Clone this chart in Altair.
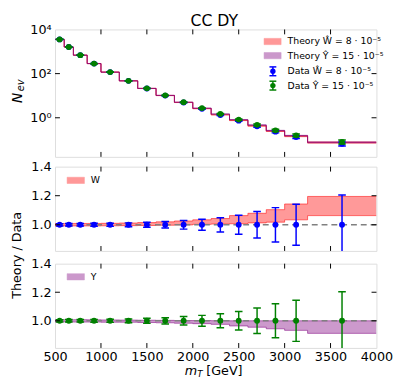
import altair as alt
import pandas as pd

# ---------------- data ----------------
bin_lo = [500, 600, 700, 850, 1000, 1200, 1400, 1600, 1800, 2000, 2200, 2400, 2600, 2800, 3000, 3250]
bin_hi = [600, 700, 850, 1000, 1200, 1400, 1600, 1800, 2000, 2200, 2400, 2600, 2800, 3000, 3250, 4000]
mt_center = [550, 650, 775, 925, 1100, 1300, 1500, 1700, 1900, 2100, 2300, 2500, 2700, 2900, 3125, 3625]
data_W = [3550, 1600, 685, 285, 117, 47, 21.2, 10.1, 4.9, 2.55, 1.33, 0.74, 0.41, 0.235, 0.135, 0.067]
data_Y = [3550, 1600, 685, 285, 117, 47, 21.5, 10.4, 5.1, 2.75, 1.50, 0.83, 0.48, 0.27, 0.16, 0.081]
relerr_W = [0.008, 0.009, 0.009, 0.010, 0.011, 0.013, 0.017, 0.022, 0.030, 0.038, 0.049, 0.065, 0.091, 0.118, 0.141, 0.205]
relerr_Y = [0.008, 0.009, 0.009, 0.010, 0.011, 0.013, 0.018, 0.022, 0.030, 0.038, 0.049, 0.065, 0.089, 0.119, 0.144, 0.204]
ratio_W_lo = [0.992, 0.992, 0.992, 0.992, 0.993, 0.994, 0.995, 0.997, 0.999, 1.003, 1.005, 1.007, 1.013, 1.018, 1.034, 1.063]
ratio_W_hi = [1.008, 1.008, 1.009, 1.009, 1.010, 1.012, 1.015, 1.020, 1.026, 1.034, 1.043, 1.063, 1.079, 1.104, 1.143, 1.195]
ratio_Y_lo = [0.992, 0.992, 0.991, 0.991, 0.990, 0.990, 0.988, 0.986, 0.983, 0.980, 0.975, 0.964, 0.955, 0.944, 0.933, 0.912]
ratio_Y_hi = [1.008, 1.008, 1.008, 1.007, 1.006, 1.005, 1.004, 1.003, 1.002, 1.002, 1.001, 1.000, 1.000, 1.000, 1.000, 1.000]

x_tick_values = [500, 1000, 1500, 2000, 2500, 3000, 3500, 4000]
top_tick_values = [1, 100, 10000]
ratio_tick_values = [1.0, 1.2, 1.4]
top_legend_labels = ["Theory Ŵ = 8 · 10⁻⁵", "Theory Ŷ = 15 · 10⁻⁵",
                     "Data Ŵ = 8 · 10⁻⁵", "Data Ŷ = 15 · 10⁻⁵"]
mid_legend_label = "W"
bot_legend_label = "Y"
title_text = "CC DY"

# ---------------- tables ----------------
pts = pd.DataFrame({"mt": mt_center, "dW": data_W, "dY": data_Y,
                    "eW": relerr_W, "eY": relerr_Y})
pts["dW_lo"] = pts.dW * (1 - pts.eW)
pts["dW_hi"] = pts.dW * (1 + pts.eW)
pts["dY_lo"] = pts.dY * (1 - pts.eY)
pts["dY_hi"] = pts.dY * (1 + pts.eY)
pts["one"] = 1.0
pts["rW_lo"] = 1 - pts.eW
pts["rW_hi"] = 1 + pts.eW
pts["rY_lo"] = 1 - pts.eY
pts["rY_hi"] = 1 + pts.eY

step = pd.DataFrame({
    "x": bin_lo + [bin_hi[-1]],
    "dW": data_W + [data_W[-1]],
    "dY": data_Y + [data_Y[-1]],
    "rWlo": ratio_W_lo + [ratio_W_lo[-1]],
    "rWhi": ratio_W_hi + [ratio_W_hi[-1]],
    "rYlo": ratio_Y_lo + [ratio_Y_lo[-1]],
    "rYhi": ratio_Y_hi + [ratio_Y_hi[-1]],
})
step["tWlo"] = step.dW * step.rWlo
step["tWhi"] = step.dW * step.rWhi
step["tYlo"] = step.dY * step.rYlo
step["tYhi"] = step.dY * step.rYhi

FONT = "DejaVu Sans"
W = 328
H_TOP = 130
H_R = 86
RED = "#ff0000"
PURPLE = "#800080"
BLUE = "#0000ff"
GREEN = "#008000"
one = alt.Data(values=[{"k": 0}])

XS = alt.Scale(domain=[500, 4000], nice=False, zero=False)


def xenc(field, axis=None):
    return alt.X(field, type="quantitative", scale=XS, axis=axis)


def make_panel(height, yscale, yaxis, xaxis, bands, points, ytick_vals, ratio):
    def yenc(field):
        return alt.Y(field, type="quantitative", scale=yscale, axis=yaxis)

    layers = []
    for lo, hi, col in bands:
        layers.append(alt.Chart(step).mark_area(interpolate="step-after", color=col, opacity=0.4,
                                                clip=True).encode(
            x=xenc("x", xaxis), y=yenc(lo), y2=alt.Y2(hi)))
        for f in (lo, hi):
            layers.append(alt.Chart(step).mark_line(interpolate="step-after", color=col, opacity=0.55,
                                                    strokeWidth=1, clip=True).encode(
                x=xenc("x", xaxis), y=yenc(f)))
    if ratio:
        layers.append(alt.Chart(alt.Data(values=[{"v": 1.0}])).mark_rule(
            color="#808080", strokeWidth=1.5, strokeDash=[6, 4]).encode(y=yenc("v:Q")))
    for y, lo, hi, col in points:
        layers.append(alt.Chart(pts).mark_rule(color=col, strokeWidth=1.5, clip=True).encode(
            x=xenc("mt", xaxis), y=yenc(lo), y2=alt.Y2(hi)))
        for f in (lo, hi):
            layers.append(alt.Chart(pts).mark_point(shape="M-1,0L1,0", size=60, filled=False,
                                                    color=col, strokeWidth=1.5, opacity=1,
                                                    clip=True).encode(
                x=xenc("mt", xaxis), y=yenc(f)))
        layers.append(alt.Chart(pts).mark_circle(size=36, color=col, opacity=1, clip=True).encode(
            x=xenc("mt", xaxis), y=yenc(y)))
    # inward ticks
    xt = pd.DataFrame({"v": x_tick_values[1:-1]})
    layers.append(alt.Chart(xt).mark_rule(color="black", strokeWidth=1).encode(
        x=xenc("v", xaxis), y=alt.value(height), y2=alt.value(height - 5)))
    layers.append(alt.Chart(xt).mark_rule(color="black", strokeWidth=1).encode(
        x=xenc("v", xaxis), y=alt.value(0), y2=alt.value(5)))
    yt = pd.DataFrame({"v": ytick_vals})
    layers.append(alt.Chart(yt).mark_rule(color="black", strokeWidth=1).encode(
        y=yenc("v"), x=alt.value(0), x2=alt.value(5)))
    layers.append(alt.Chart(yt).mark_rule(color="black", strokeWidth=1).encode(
        y=yenc("v"), x=alt.value(W), x2=alt.value(W - 5)))
    return layers


def txt(s, x, y, size, align="left", baseline="alphabetic", angle=0, style="normal"):
    kw = dict(align=align, baseline=baseline, fontSize=size, font=FONT, color="black",
              fontStyle=style)
    if angle:
        kw["angle"] = angle
    return alt.Chart(one).mark_text(**kw).encode(
        x=alt.value(x), y=alt.value(y), text=alt.value(s))


def legend_rect(x1, x2, y1, y2, col):
    return alt.Chart(one).mark_rect(color=col, opacity=0.4, stroke=col, strokeOpacity=0.5,
                                    strokeWidth=1).encode(
        x=alt.value(x1), x2=alt.value(x2), y=alt.value(y1), y2=alt.value(y2))


def legend_err(xc, yc, col):
    out = [alt.Chart(one).mark_rule(color=col, strokeWidth=1.5).encode(
        x=alt.value(xc), y=alt.value(yc - 4.5), y2=alt.value(yc + 4.5))]
    for dy in (-4.5, 4.5):
        out.append(alt.Chart(one).mark_rule(color=col, strokeWidth=1.5).encode(
            x=alt.value(xc - 3.5), x2=alt.value(xc + 3.5), y=alt.value(yc + dy)))
    out.append(alt.Chart(one).mark_circle(size=30, color=col, opacity=1).encode(
        x=alt.value(xc), y=alt.value(yc)))
    return out


# ---------------- top panel ----------------
top_axis = alt.Axis(values=top_tick_values, ticks=False, domain=False, grid=False,
                    labelExpr="datum.value == 1 ? '10⁰' : datum.value == 100 ? '10²' : '10⁴'",
                    labelFontSize=13, labelFont=FONT, labelColor="black", labelPadding=4,
                    labelOverlap=False, labelFlush=False, title=None)
top_scale = alt.Scale(type="log", domain=[0.017, 10000], nice=False)
top_layers = make_panel(H_TOP, top_scale, top_axis, None,
                        [("tWlo", "tWhi", RED), ("tYlo", "tYhi", PURPLE)],
                        [("dW", "dW_lo", "dW_hi", BLUE), ("dY", "dY_lo", "dY_hi", GREEN)],
                        [1, 100], False)
# invisible anchor fixing the left extent of the whole figure
top_layers.append(alt.Chart(one).mark_rule(color="white", strokeWidth=0.3).encode(
    x=alt.value(-47), y=alt.value(60), y2=alt.value(61)))
top_layers += [txt("N", -33.8, 75, 14, angle=270, style="italic"),
               txt("ev", -31.8, 63, 10, angle=270, style="italic"),
               txt(title_text, W / 2 - 1.5, -3.8, 16, align="center")]
leg_y = [12.3, 26.7, 42.7, 57.3]
top_layers += [legend_rect(213.3, 230.7, leg_y[0] - 3.2, leg_y[0] + 3.2, RED),
               legend_rect(213.3, 230.7, leg_y[1] - 3.2, leg_y[1] + 3.2, PURPLE)]
top_layers += legend_err(222.3, leg_y[2], BLUE)
top_layers += legend_err(222.3, leg_y[3], GREEN)
for lab, yy in zip(top_legend_labels, leg_y):
    top_layers.append(txt(lab, 237.3, yy, 9.5, baseline="middle"))

top = alt.layer(*top_layers).properties(width=W, height=H_TOP)

# ---------------- ratio panels ----------------
def ratio_axis():
    return alt.Axis(values=ratio_tick_values, format=".1f", ticks=False, domain=False, grid=False,
                    labelFontSize=13, labelFont=FONT, labelColor="black", labelPadding=4,
                    labelOverlap=False, labelFlush=False, title=None)


mid_layers = make_panel(H_R, alt.Scale(domain=[0.82, 1.4], nice=False, zero=False), ratio_axis(), None,
                        [("rWlo", "rWhi", RED)], [("one", "rW_lo", "rW_hi", BLUE)], [1.0, 1.2], True)
mid_layers += [legend_rect(12.3, 30, 10.8, 17.2, RED), txt(mid_legend_label, 36.5, 14, 9.5, baseline="middle"),
               txt("Theory / Data", -34.8, 90.5, 13, align="center", angle=270)]
mid = alt.layer(*mid_layers).properties(width=W, height=H_R)

bx_axis = alt.Axis(values=x_tick_values, format="d", ticks=False, domain=False, grid=False,
                   labelFontSize=13, labelFont=FONT, labelColor="black", labelPadding=3,
                   labelOverlap=False, labelFlush=False, title=None)
bot_layers = make_panel(H_R, alt.Scale(domain=[0.81, 1.4], nice=False, zero=False), ratio_axis(), bx_axis,
                        [("rYlo", "rYhi", PURPLE)], [("one", "rY_lo", "rY_hi", GREEN)], [1.0, 1.2], True)
bot_layers += [legend_rect(12.3, 30, 10.2, 16.6, PURPLE), txt(bot_legend_label, 36.5, 13.4, 9.5, baseline="middle"),
               txt("m", 132.3, 113.2, 13, style="italic"),
               txt("T", 145.2, 116, 9, style="italic"),
               txt("[GeV]", 154.3, 113.2, 13)]
bot = alt.layer(*bot_layers).properties(width=W, height=H_R)

chart = alt.vconcat(top, alt.vconcat(mid, bot, spacing=13, bounds="flush"), spacing=10,
                    bounds="flush").properties(
    padding={"left": 0, "top": 0, "right": 5, "bottom": 5}
).configure_view(stroke="black", strokeWidth=1.2).configure(font=FONT, background="white")

chart.save("out.html", embed_options={"renderer": "svg", "actions": False})
